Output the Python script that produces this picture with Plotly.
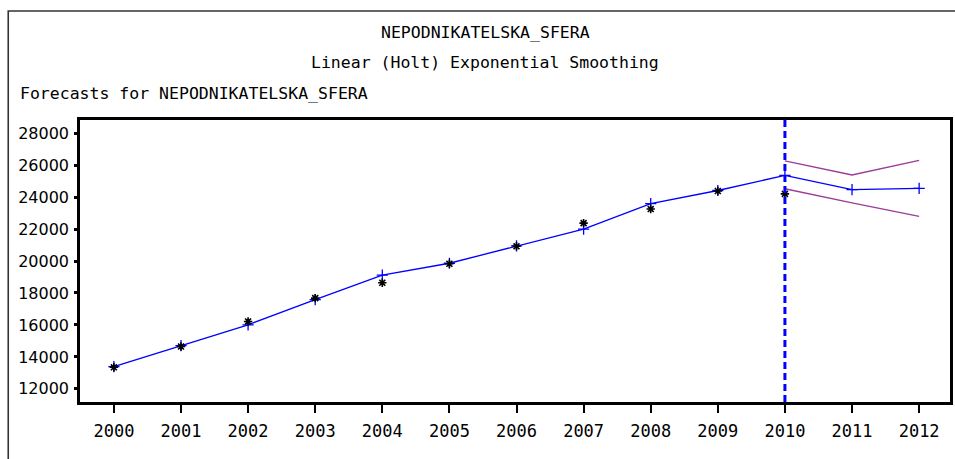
import plotly.graph_objects as go

# Series: NEPODNIKATELSKA_SFERA, Holt linear exponential smoothing
years = [2000, 2001, 2002, 2003, 2004, 2005, 2006, 2007, 2008, 2009, 2010, 2011, 2012]
actual_years = [2000, 2001, 2002, 2003, 2004, 2005, 2006, 2007, 2008, 2009, 2010]
actual = [13350, 14650, 16220, 17680, 18640, 19830, 20920, 22370, 23250, 24380, 24200]
predicted = [13390, 14710, 16010, 17590, 19120, 19860, 20950, 22000, 23590, 24410, 25360, 24460, 24540]
band_years = [2010, 2011, 2012]
upper = [26260, 25380, 26300]
lower = [24520, 23630, 22790]
forecast_start = 2010
y_ticks = [12000, 14000, 16000, 18000, 20000, 22000, 24000, 26000, 28000]

W, H = 955, 459
L, R, T, B = 80, 2, 120, 57
pw, ph = W - L - R, H - T - B


def px(x):
    return (x - L) / pw


def py(y):
    return (H - B - y) / ph


BLUE = "#0000FF"
PURPLE = "#9B3B9B"
mono = "DejaVu Sans Mono"

fig = go.Figure()

fig.add_trace(go.Scatter(
    x=band_years, y=upper, mode="lines",
    line=dict(color=PURPLE, width=1.3), hoverinfo="skip"))
fig.add_trace(go.Scatter(
    x=band_years, y=lower, mode="lines",
    line=dict(color=PURPLE, width=1.3), hoverinfo="skip"))
fig.add_trace(go.Scatter(
    x=years, y=predicted, mode="lines+markers",
    line=dict(color=BLUE, width=1.3),
    marker=dict(symbol="cross-thin-open", size=8, line=dict(color=BLUE, width=1.3))))
fig.add_trace(go.Scatter(
    x=actual_years, y=actual, mode="markers",
    marker=dict(symbol="asterisk-open", size=7, color="black",
                line=dict(color="black", width=1.6))))

shapes = [
    # forecast origin
    dict(type="line", xref="x", yref="paper", x0=forecast_start, x1=forecast_start,
         y0=0, y1=1, line=dict(color=BLUE, width=3, dash="7px,4px"), layer="above"),
    # outer frame
    dict(type="rect", xref="paper", yref="paper",
         x0=px(8), x1=px(W + 20), y0=py(H + 20), y1=py(11),
         line=dict(color="#333333", width=1.6), layer="below"),
]

annotations = [
    dict(text="NEPODNIKATELSKA_SFERA", x=px(487), y=py(33), xref="paper", yref="paper",
         xanchor="center", yanchor="middle", showarrow=False,
         font=dict(family=mono, size=16.5, color="black")),
    dict(text="Linear (Holt) Exponential Smoothing", x=px(486), y=py(63),
         xref="paper", yref="paper", xanchor="center", yanchor="middle", showarrow=False,
         font=dict(family=mono, size=16.5, color="black")),
    dict(text="Forecasts for NEPODNIKATELSKA_SFERA", x=px(18), y=py(93),
         xref="paper", yref="paper", xanchor="left", yanchor="middle", showarrow=False,
         font=dict(family=mono, size=16.5, color="black")),
]

fig.update_layout(
    width=W, height=H,
    margin=dict(l=L, r=R, t=T, b=B),
    paper_bgcolor="white", plot_bgcolor="white",
    showlegend=False,
    shapes=shapes, annotations=annotations,
)
fig.update_xaxes(
    range=[1999.495, 2012.46], tickvals=years, ticktext=[str(y) for y in years],
    showgrid=False, zeroline=False, showline=True, mirror=True,
    linecolor="black", linewidth=2.5,
    ticks="outside", ticklen=8, tickwidth=2, tickcolor="black",
    tickfont=dict(family=mono, size=17, color="black"), ticklabelstandoff=4,
)
fig.update_yaxes(
    range=[11180, 28820], tickvals=y_ticks, ticktext=[str(v) for v in y_ticks],
    showgrid=False, zeroline=False, showline=True, mirror=True,
    linecolor="black", linewidth=2.5,
    ticks="outside", ticklen=3, tickwidth=2.5, tickcolor="black",
    tickfont=dict(family="DejaVu Sans", size=16, color="black"), ticklabelstandoff=2,
)

fig.write_html("out.html")
